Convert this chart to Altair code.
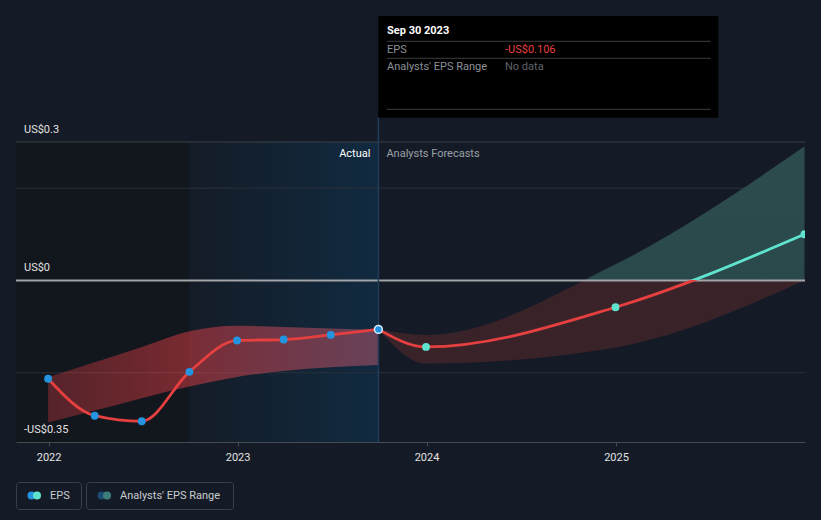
import altair as alt
import pandas as pd

# ---------------- data ----------------
actual_dates = ["2021-12-31", "2022-03-31", "2022-06-30", "2022-09-30",
                "2022-12-31", "2023-03-31", "2023-06-30", "2023-09-30"]
actual_eps = [-0.213, -0.293, -0.305, -0.198, -0.130, -0.128, -0.118, -0.106]
past_low = [-0.308, -0.282, -0.255, -0.230, -0.209, -0.196, -0.188, -0.183]
past_high = [-0.209, -0.177, -0.144, -0.110, -0.098, -0.101, -0.104, -0.107]

fc_dates = ["2023-09-30", "2023-12-31", "2024-12-31", "2025-12-31"]
fc_eps = [-0.106, -0.144, -0.058, 0.100]
fc_low = [-0.106, -0.180, -0.145, 0.000]
fc_high = [-0.106, -0.118, 0.035, 0.290]

region_bounds = ["2021-10-30", "2022-09-30", "2023-09-30"]
tick_years = [2022, 2023, 2024, 2025]

grid_values = [0.3, 0.2, -0.2]
ylabel_values = [0.3, 0.0, -0.35]
ylabel_texts = ["US$0.3", "US$0", "-US$0.35"]

tip_date = "Sep 30 2023"
tip_rows = ["EPS", "Analysts' EPS Range"]
tip_nodata = "No data"
legend_items = ["EPS", "Analysts' EPS Range"]
label_actual = "Actual"
label_forecast = "Analysts Forecasts"

# ---------------- style ----------------
BG = "#151b26"
RED = "#e5403f"
TEAL = "#5fe3cf"
BLUE = "#2394df"
FONT = "Roboto"
W, H = 789, 300

actual_df = pd.DataFrame({"date": actual_dates, "eps": actual_eps,
                          "low": past_low, "high": past_high})
fc_df = pd.DataFrame({"date": fc_dates, "eps": fc_eps, "low": fc_low, "high": fc_high})

xscale = alt.Scale(type="utc", nice=False,
                   domain=[alt.DateTime(year=2021, month=10, date=30, utc=True),
                           alt.DateTime(year=2026, month=1, date=1, utc=True)])
yscale = alt.Scale(domain=[-0.35, 0.3], nice=False, zero=False)
xaxis = alt.Axis(title=None, grid=False,
                 values=[alt.DateTime(year=y, month=1, date=1, utc=True) for y in tick_years],
                 format="%Y", formatType="utc",
                 domainColor="#454b55", domainWidth=1, tickColor="#454b55", tickSize=4,
                 labelColor="#e2e2e2", labelFont=FONT, labelFontSize=11, labelPadding=5)


def X(f):
    return alt.X(f, type="temporal", scale=xscale, axis=xaxis)


def Y(f):
    return alt.Y(f, type="quantitative", scale=yscale, axis=None)


def text_mark(s, x, y, color, size=11, weight="normal", align="left"):
    return alt.Chart(pd.DataFrame({"t": [s]})).mark_text(
        font=FONT, fontSize=size, fontWeight=weight, color=color,
        align=align, baseline="middle").encode(
        x=alt.value(x), y=alt.value(y), text="t:N")


one = pd.DataFrame({"k": [0]})
layers = []

# background regions
reg = pd.DataFrame({"start": region_bounds[:-1], "end": region_bounds[1:]})
layers.append(alt.Chart(reg.iloc[[0]]).mark_rect(fill="#12161d").encode(
    x=X("start"), x2=alt.X2("end"), y=alt.value(0), y2=alt.value(H)))
layers.append(alt.Chart(reg.iloc[[1]]).mark_rect(
    fill=alt.LinearGradient(gradient="linear", x1=0, x2=1, y1=0, y2=0,
                            stops=[alt.GradientStop(color="#141c27", offset=0),
                                   alt.GradientStop(color="#112a40", offset=1)])).encode(
    x=X("start"), x2=alt.X2("end"), y=alt.value(0), y2=alt.value(H)))

# gridlines
grid_df = pd.DataFrame({"v": grid_values, "c": ["top", "mid", "mid"]})
layers.append(alt.Chart(grid_df).mark_rule(strokeWidth=1).encode(
    y=Y("v"), x=alt.value(0), x2=alt.value(W),
    color=alt.Color("c:N", scale=alt.Scale(domain=["top", "mid"], range=["#3a4049", "#2a313b"]),
                    legend=None)))

# past band
layers.append(alt.Chart(actual_df).mark_area(
    interpolate="monotone",
    fill=alt.LinearGradient(gradient="linear", x1=0, x2=1, y1=0, y2=0,
                            stops=[alt.GradientStop(color="rgba(240,66,70,0.30)", offset=0),
                                   alt.GradientStop(color="rgba(245,66,72,0.45)", offset=0.43),
                                   alt.GradientStop(color="rgba(210,95,120,0.45)", offset=1)])).encode(
    x=X("date"), y=Y("high"), y2=alt.Y2("low")))

# forecast band (teal above zero, red below)
hmax, lmin = max(fc_high), min(fc_low)
off_band = hmax / (hmax - lmin)
layers.append(alt.Chart(fc_df).mark_area(
    interpolate="monotone",
    fill=alt.LinearGradient(gradient="linear", x1=0, x2=0, y1=0, y2=1,
                            stops=[alt.GradientStop(color="#2c4c4d", offset=0),
                                   alt.GradientStop(color="#2a494a", offset=off_band),
                                   alt.GradientStop(color="#3a2229", offset=off_band),
                                   alt.GradientStop(color="#3a2229", offset=1)])).encode(
    x=X("date"), y=Y("high"), y2=alt.Y2("low")))

# zero line
layers.append(alt.Chart(pd.DataFrame({"v": [0.0]})).mark_rule(color="#a2a4a7", strokeWidth=2).encode(
    y=Y("v"), x=alt.value(0), x2=alt.value(W)))

# vertical "today" line
layers.append(alt.Chart(actual_df.iloc[[-1]]).mark_rule(color="#1f3c58", strokeWidth=1.5).encode(
    x=X("date"), y=alt.value(-25), y2=alt.value(H)))

# lines
layers.append(alt.Chart(actual_df).mark_line(interpolate="monotone", color=RED, strokeWidth=2.8).encode(
    x=X("date"), y=Y("eps")))
emax, emin = max(fc_eps), min(fc_eps)
off_line = emax / (emax - emin)
layers.append(alt.Chart(fc_df).mark_line(
    interpolate="monotone", strokeWidth=2.8,
    stroke=alt.LinearGradient(gradient="linear", x1=0, x2=0, y1=0, y2=1,
                              stops=[alt.GradientStop(color=TEAL, offset=0),
                                     alt.GradientStop(color=TEAL, offset=off_line),
                                     alt.GradientStop(color=RED, offset=off_line),
                                     alt.GradientStop(color=RED, offset=1)])).encode(
    x=X("date"), y=Y("eps")))

# points
layers.append(alt.Chart(actual_df).mark_circle(size=62, color=BLUE, opacity=1).encode(
    x=X("date"), y=Y("eps")))
layers.append(alt.Chart(fc_df.iloc[1:]).mark_circle(size=62, color=TEAL, opacity=1, clip=True).encode(
    x=X("date"), y=Y("eps")))
layers.append(alt.Chart(actual_df.iloc[[-1]]).mark_circle(
    size=62, color=BLUE, opacity=1, stroke="#dfeaf5", strokeWidth=1.5).encode(
    x=X("date"), y=Y("eps")))

# y labels
ylab_df = pd.DataFrame({"v": ylabel_values, "t": ylabel_texts})
layers.append(alt.Chart(ylab_df).mark_text(
    font=FONT, fontSize=11, color="#e2e2e2", align="left", baseline="middle", dy=-12.5).encode(
    x=alt.value(8), y=Y("v"), text="t:N"))

# Actual / Forecast labels
lab_df = pd.DataFrame({"date": [actual_dates[-1]], "v": [0.3], "a": [label_actual], "f": [label_forecast]})
layers.append(alt.Chart(lab_df).mark_text(
    font=FONT, fontSize=11, color="#ffffff", align="right", baseline="middle", dx=-8, dy=12).encode(
    x=X("date"), y=Y("v"), text="a:N"))
layers.append(alt.Chart(lab_df).mark_text(
    font=FONT, fontSize=11, color="#9ba0a6", align="left", baseline="middle", dx=8, dy=12).encode(
    x=X("date"), y=Y("v"), text="f:N"))

# tooltip box
layers.append(alt.Chart(one).mark_rect(fill="#000000").encode(
    x=alt.value(362.3), x2=alt.value(702.3), y=alt.value(-126), y2=alt.value(-24.3)))
for yy in [-100.7, -83.7, -32.7]:
    layers.append(alt.Chart(one).mark_rule(color="#3c3c3c", strokeWidth=1).encode(
        x=alt.value(370.7), x2=alt.value(694.7), y=alt.value(yy)))
layers.append(text_mark(tip_date, 371, -111, "#ffffff", weight="bold"))
layers.append(text_mark(tip_rows[0], 371, -92.5, "#8c9096"))
layers.append(text_mark("-US$%.3f" % abs(actual_eps[-1]), 489, -92.5, RED))
layers.append(text_mark(tip_rows[1], 371, -75.5, "#8c9096"))
layers.append(text_mark(tip_nodata, 489, -75.5, "#5f6368"))

# legend
for x0, x1 in [(0.5, 65.5), (70.5, 217.5)]:
    layers.append(alt.Chart(one).mark_rect(fill=BG, stroke="#3a4049", strokeWidth=1, cornerRadius=3).encode(
        x=alt.value(x0), x2=alt.value(x1), y=alt.value(340.5), y2=alt.value(367.5)))
for cx, col in [(15.5, BLUE), (21, TEAL), (85.5, "#1d4a72"), (91, "#3d7e7a")]:
    layers.append(alt.Chart(one).mark_circle(size=64, color=col, opacity=1).encode(
        x=alt.value(cx), y=alt.value(353.5)))
layers.append(text_mark(legend_items[0], 34, 353.5, "#c8ccd0"))
layers.append(text_mark(legend_items[1], 104, 353.5, "#c8ccd0"))

chart = alt.layer(*layers).properties(
    width=W, height=H,
    padding={"left": 16, "top": 142, "right": 16, "bottom": 78},
    autosize=alt.AutoSizeParams(type="none"),
    background=BG,
).configure_view(stroke=None)

chart.save("out.html", embed_options={"renderer": "svg", "actions": False})
